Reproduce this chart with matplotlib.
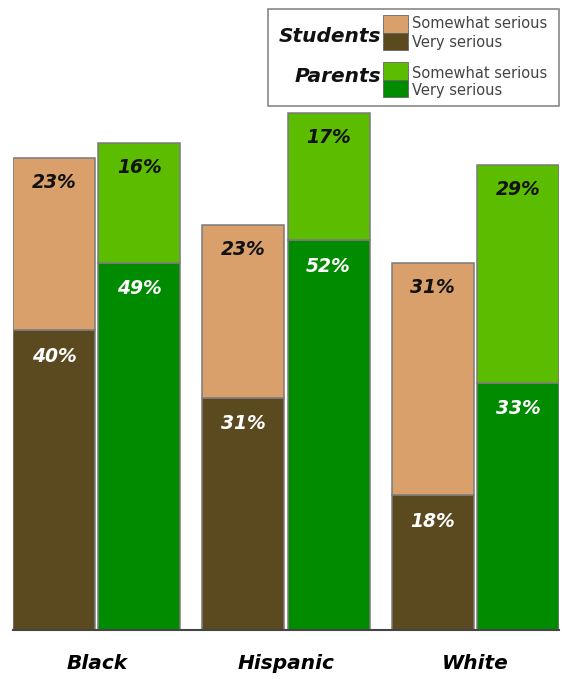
import matplotlib.pyplot as plt
import numpy as np
from matplotlib.patches import Rectangle

# Share who call each problem serious, by group
groups = ["Black", "Hispanic", "White"]
students_very = [40, 31, 18]
students_somewhat = [23, 23, 31]
parents_very = [49, 52, 33]
parents_somewhat = [16, 17, 29]

TAN = "#D9A06C"
BROWN = "#5B4A20"
LIGHT_GREEN = "#5CBC00"
DARK_GREEN = "#008B00"
EDGE = "#7a7a7a"

fig = plt.figure(figsize=(5.62, 6.79), dpi=100)
W, H = 562, 679
ax = fig.add_axes([13 / W, (H - 630) / H, 546 / W, 630 / H])

x = np.arange(len(groups))
width = 0.434
off = 0.225

def stack(xpos, low, high, c_low, c_high):
    ax.bar(xpos, low, width, color=c_low, edgecolor=EDGE, linewidth=1.1, zorder=2)
    ax.bar(xpos, high, width, bottom=low, color=c_high, edgecolor=EDGE,
           linewidth=1.1, zorder=2)
    for xi, lo, hi in zip(xpos, low, high):
        ax.text(xi, lo - 3.5, f"{lo}%", ha="center", va="center", color="white",
                fontsize=13.5, fontweight="bold", fontstyle="italic", zorder=3)
        ax.text(xi, lo + hi - 3.3, f"{hi}%", ha="center", va="center", color="#111111",
                fontsize=13.5, fontweight="bold", fontstyle="italic", zorder=3)

stack(x - off, students_very, students_somewhat, BROWN, TAN)
stack(x + off, parents_very, parents_somewhat, DARK_GREEN, LIGHT_GREEN)

ax.set_xlim(-0.442, 2.442)
ax.set_ylim(0, 84)
for s in ["top", "left", "right"]:
    ax.spines[s].set_visible(False)
ax.spines["bottom"].set_color("#444444")
ax.spines["bottom"].set_linewidth(1.5)
ax.spines["bottom"].set_zorder(4)
ax.set_yticks([])
ax.set_xticks(x)
ax.set_xticklabels(groups, fontsize=14.5, fontweight="bold", fontstyle="italic")
ax.tick_params(axis="x", length=0, pad=17)
ax.patch.set_alpha(0)

# legend box drawn in pixel space on top
lg = fig.add_axes([0, 0, 1, 1], zorder=5)
lg.set_xlim(0, W)
lg.set_ylim(H, 0)
lg.axis("off")
lg.patch.set_alpha(0)
lg.add_patch(Rectangle((268, 9), 291, 97, facecolor="white", edgecolor="#888888", linewidth=1.2))

rows = [("Students", 15, 37, 24, 42, TAN, BROWN),
        ("Parents", 62, 76, 73, 90, LIGHT_GREEN, DARK_GREEN)]
for name, top, name_y, y1, y2, c_top, c_bot in rows:
    lg.add_patch(Rectangle((383, top), 25, 17.5, facecolor=c_top, edgecolor="#666666", linewidth=0.6))
    lg.add_patch(Rectangle((383, top + 17.5), 25, 17.5, facecolor=c_bot, edgecolor="#666666", linewidth=0.6))
    lg.text(381, name_y, name, ha="right", va="center", fontsize=14.5,
            fontweight="heavy", fontstyle="italic", color="#111111")
    lg.text(412, y1, "Somewhat serious", ha="left", va="center", fontsize=10.5, color="#444444")
    lg.text(412, y2, "Very serious", ha="left", va="center", fontsize=10.5, color="#444444")

fig.savefig("out.png", dpi=100)
